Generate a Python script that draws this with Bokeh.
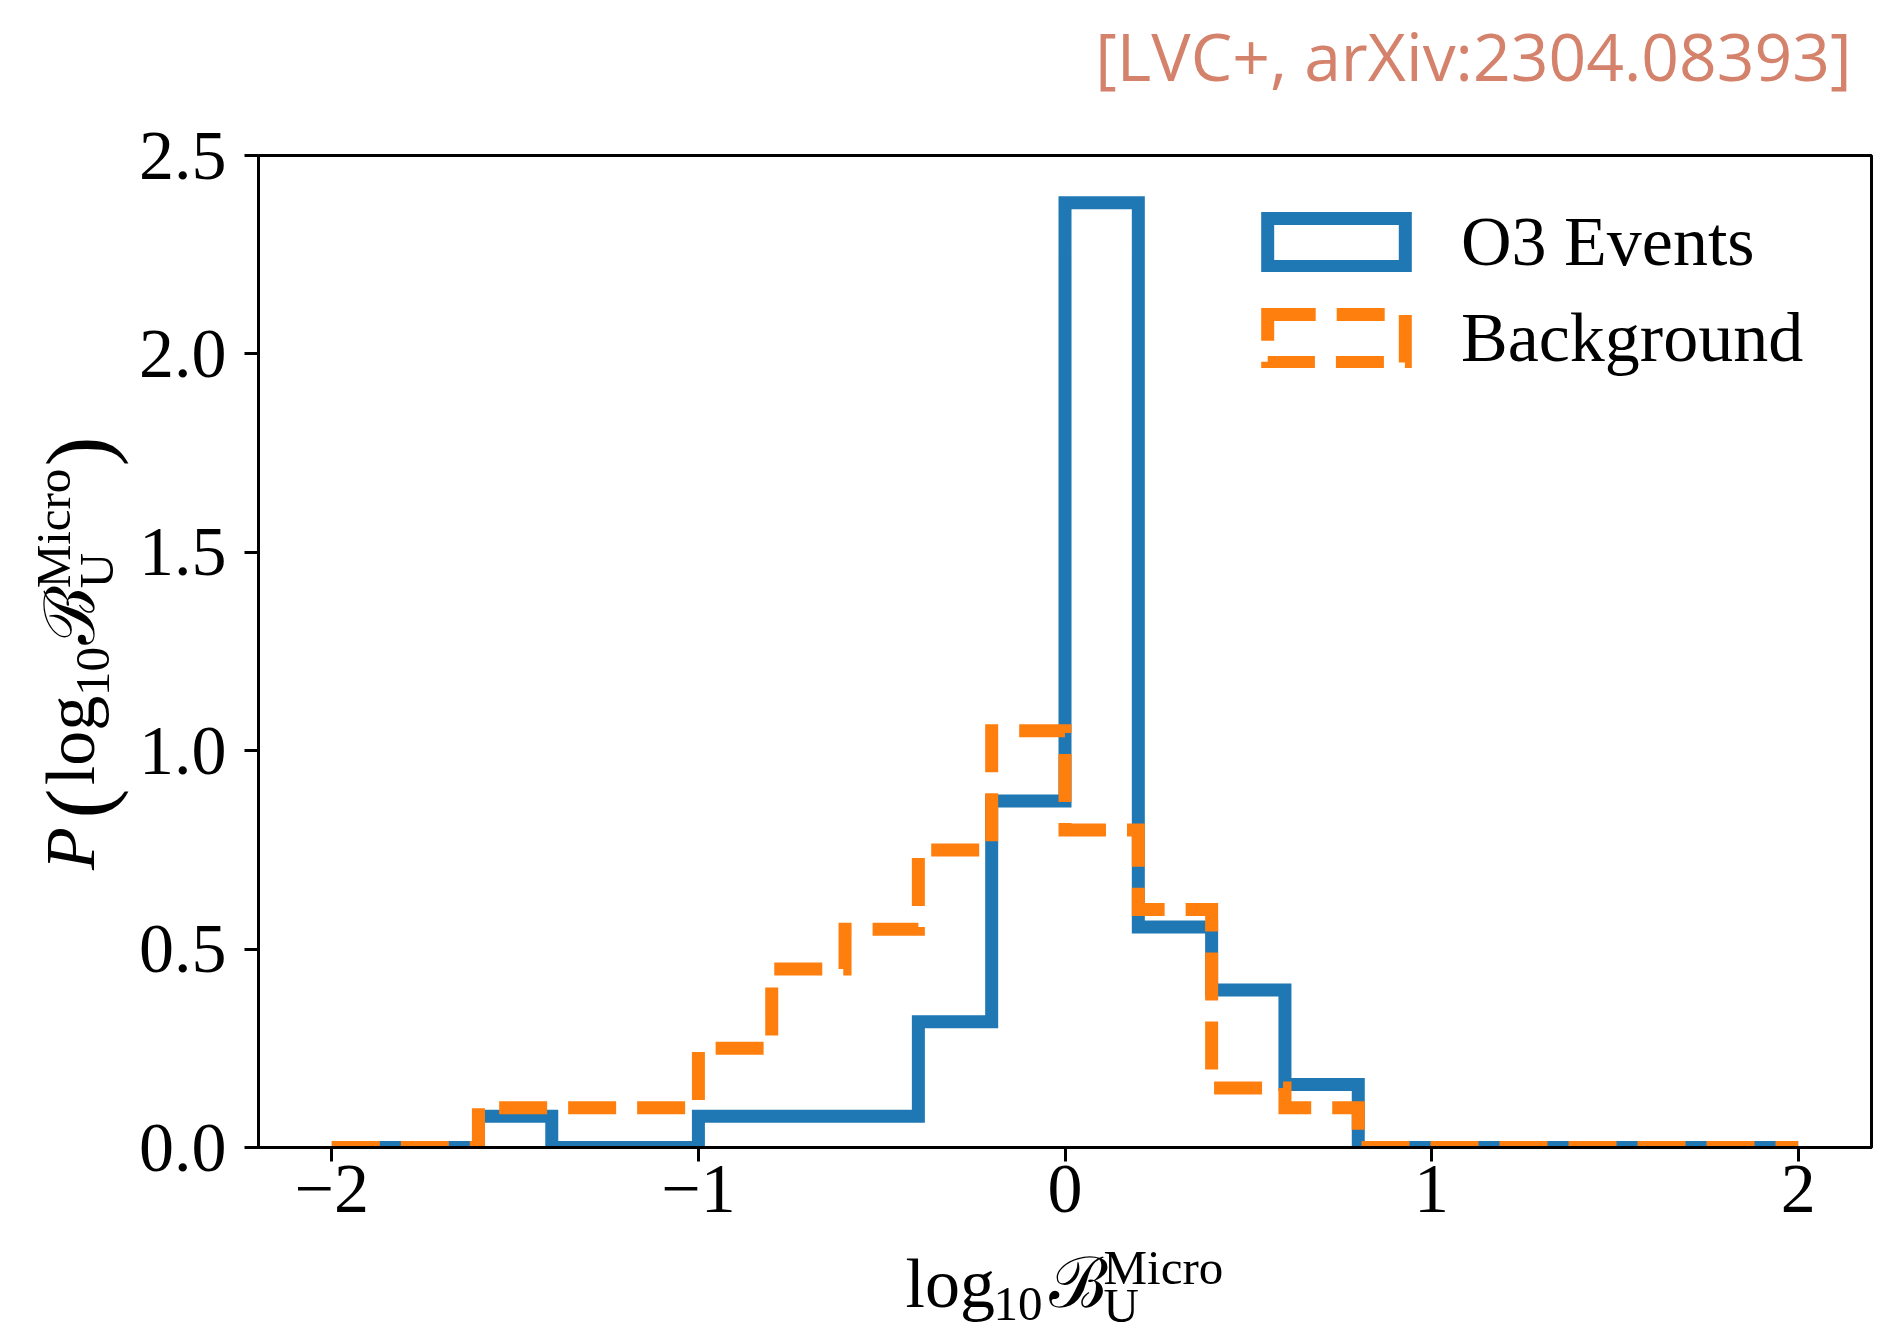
import glob
import numpy as np
from bokeh.plotting import figure
from bokeh.layouts import column, row
from bokeh.models import (Range1d, Label, Legend, LegendItem, FixedTicker,
                          CustomJSTickFormatter, PrintfTickFormatter, ColumnDataSource)
from bokeh.core.properties import value
from bokeh.embed import file_html
from bokeh.resources import INLINE

# ---------------- data ----------------
bin_edges = [-2.0, -1.8, -1.6, -1.4, -1.2, -1.0, -0.8, -0.6, -0.4, -0.2, 0.0,
             0.2, 0.4, 0.6, 0.8, 1.0, 1.2, 1.4, 1.6, 1.8, 2.0]
o3_events = [0.0, 0.0, 0.079, 0.0, 0.0, 0.079, 0.079, 0.079, 0.317, 0.873, 2.381,
             0.556, 0.397, 0.159, 0.0, 0.0, 0.0, 0.0, 0.0, 0.0]
background = [0.0, 0.0, 0.10, 0.10, 0.10, 0.25, 0.45, 0.55, 0.75, 1.05, 0.80,
              0.60, 0.15, 0.10, 0.0, 0.0, 0.0, 0.0, 0.0, 0.0]
series_labels = ["O3 Events", "Background"]
x_ticks = [-2, -1, 0, 1, 2]
y_ticks = [0.0, 0.5, 1.0, 1.5, 2.0, 2.5]
citation = "[LVC+, arXiv:2304.08393]"

# ---------------- style / layout ----------------
BLUE = "#1f77b4"
ORANGE = "#ff7f0e"
CITE = "#d4826b"
SERIF = "Liberation Serif"
XMIN, XMAX, YMIN, YMAX = -2.2, 2.2, 0.0, 2.5
W, H = 1900, 1335
FL, FR, FT, FB = 255, 1871, 155, 1147      # plot frame in page pixels
TOP_H = 110                                 # strip holding the citation
SPLIT_Y = 1238                              # boundary between plot and x-label strip
LEFT_W = 135                                # strip holding the y label
ROW_H = SPLIT_Y - TOP_H
BOT_H = H - SPLIT_Y
BASE_K = 0.39                               # alphabetic-baseline correction (em)

# ---------------- main plot ----------------
p = figure(width=W - LEFT_W, height=ROW_H, output_backend="svg", toolbar_location=None,
           x_range=Range1d(XMIN, XMAX), y_range=Range1d(YMIN, YMAX),
           min_border_left=FL - LEFT_W, min_border_right=W - FR,
           min_border_top=FT - TOP_H, min_border_bottom=SPLIT_Y - FB)
p.background_fill_color = "white"
p.border_fill_color = "white"
p.outline_line_color = "black"
p.outline_line_width = 3
p.grid.visible = False

for ax in (p.xaxis[0], p.yaxis[0]):
    ax.axis_line_width = 3
    ax.major_tick_line_width = 3
    ax.major_tick_out = 14
    ax.major_tick_in = 0
    ax.minor_tick_line_color = None
    ax.major_label_text_font = SERIF
    ax.major_label_text_font_size = "70px"
    ax.major_label_text_color = "black"

p.xaxis.ticker = FixedTicker(ticks=x_ticks)
p.yaxis.ticker = FixedTicker(ticks=y_ticks)
p.xaxis.formatter = CustomJSTickFormatter(
    code="return tick < 0 ? '\\u2212' + Math.abs(tick) : String(tick);")
p.yaxis.formatter = PrintfTickFormatter(format="%.1f")
p.xaxis.major_label_standoff = 4
p.yaxis.major_label_standoff = 18


def step_outline(edges, heights):
    e = np.asarray(edges, float)
    h = np.asarray(heights, float)
    xs = np.concatenate([[e[0]], np.column_stack([e[:-1], e[1:]]).ravel(), [e[-1]]])
    ys = np.concatenate([[0.0], np.repeat(h, 2), [0.0]])
    return xs, ys


bx, by = step_outline(bin_edges, o3_events)
ox, oy = step_outline(bin_edges, background)
p.line(bx, by, line_color=BLUE, line_width=13, line_join="miter", line_cap="butt")
p.line(ox, oy, line_color=ORANGE, line_width=13, line_join="miter", line_cap="butt",
       line_dash="48 21")

# legend handles: outlined rectangles like matplotlib step-histogram patches
leg_src = ColumnDataSource(dict(left=[np.nan], right=[np.nan], top=[np.nan], bottom=[np.nan]))
h1 = p.quad(left="left", right="right", top="top", bottom="bottom", source=leg_src,
            fill_color=None, line_color=BLUE, line_width=13, line_join="miter")
h2 = p.quad(left="left", right="right", top="top", bottom="bottom", source=leg_src,
            fill_color=None, line_color=ORANGE, line_width=13, line_join="miter",
            line_dash="48 21")
legend = Legend(items=[LegendItem(label=value(series_labels[0]), renderers=[h1]),
                       LegendItem(label=value(series_labels[1]), renderers=[h2])],
                location=(992, 761), orientation="vertical",
                glyph_width=172, glyph_height=60, label_height=96, label_standoff=39,
                spacing=0, padding=0, margin=0, border_line_color=None,
                background_fill_alpha=0, label_text_font=SERIF,
                label_text_font_size="70px", label_text_baseline="alphabetic",
                label_text_color="black")
p.add_layout(legend)


# ---------------- text strips around the plot ----------------
def strip(w, h, y0, y1, bt=0, bb=0):
    # data coordinates of a strip are page pixels (y grows downward)
    f = figure(width=w, height=h, output_backend="svg", toolbar_location=None,
               x_range=Range1d(0, w), y_range=Range1d(y1, y0),
               x_axis_type=None, y_axis_type=None,
               min_border_left=0, min_border_right=0,
               min_border_top=bt, min_border_bottom=bb)
    f.outline_line_color = None
    f.background_fill_color = "white"
    f.border_fill_color = "white"
    return f


def put(fig, txt, px, py, size, angle=0.0, style="normal", font=SERIF,
        color="black", align="left"):
    # (px, py): wanted baseline point in page pixels
    if angle:
        px = px - BASE_K * size
    else:
        py = py - BASE_K * size
    fig.add_layout(Label(x=px, y=py, text=txt, angle=angle,
                         text_font=font, text_font_size=f"{size}px",
                         text_font_style=style, text_color=color,
                         text_align=align, text_baseline="alphabetic"))


top = strip(W, TOP_H, 0, TOP_H)
narrow = glob.glob("/usr/share/fonts/**/*SansNarrow*", recursive=True)
if narrow:
    put(top, citation, 1851, 80, 80, font="Liberation Sans Narrow", color=CITE, align="right")
else:
    put(top, citation, 1851, 80, 66, font="Open Sans", color=CITE, align="right")

# y label, rotated; the strip's frame is aligned with the plot frame (FT..FB)
left = strip(LEFT_W, ROW_H, FT, FB, bt=FT - TOP_H, bb=SPLIT_Y - FB)
A = np.pi / 2
YB = 97   # main baseline (page x)
put(left, "P", YB, 848, 70, angle=A, style="italic", align="center")
put(left, "(", YB + 16, 803, 90, angle=A, align="center")
put(left, "log", YB, 740, 70, angle=A, align="center")
put(left, "10", YB + 15, 671, 49, angle=A, align="center")
put(left, "\u212c", YB, 615, 70, angle=A, align="center")
put(left, "Micro", YB - 25, 528, 49, angle=A, align="center")
put(left, "U", YB + 18, 570, 49, angle=A, align="center")
put(left, ")", YB + 16, 451, 90, angle=A, align="center")

bottom = strip(W, BOT_H, SPLIT_Y, H)
put(bottom, "log", 905, 1310, 70)
put(bottom, "10", 993, 1323, 49)
put(bottom, "\u212c", 1048, 1310, 70)
put(bottom, "Micro", 1103, 1286, 49)
put(bottom, "U", 1103, 1324, 49)

page = column(top, row(left, p), bottom)
open("out.html", "w").write(file_html(page, INLINE))
